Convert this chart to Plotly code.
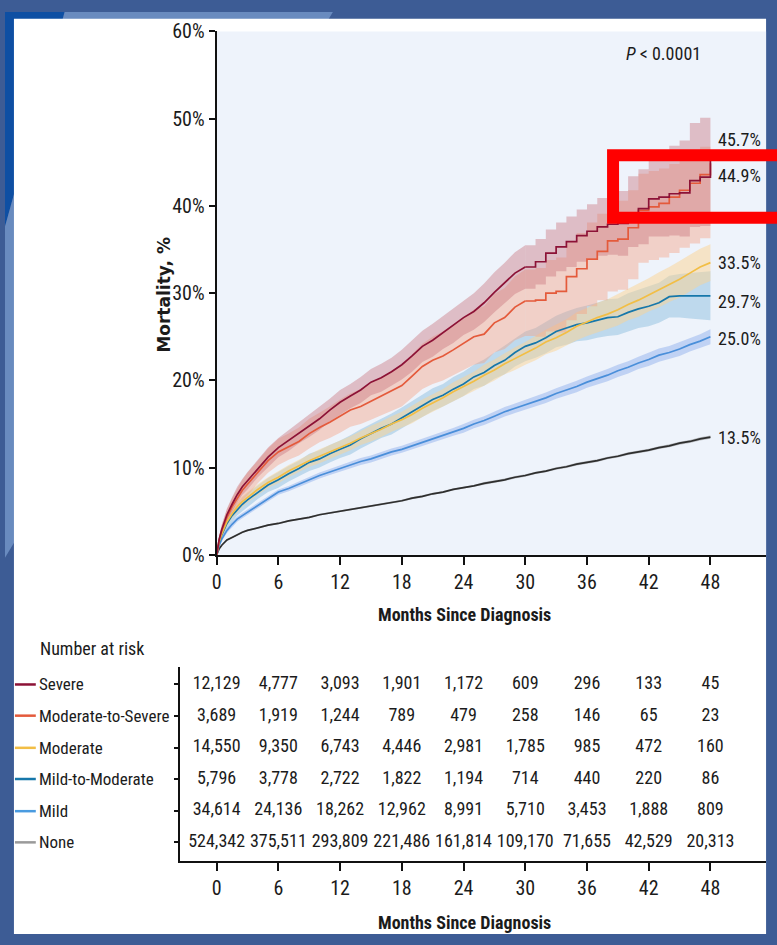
import plotly.graph_objects as go

# ---------------- data ----------------
months = [0, 0.25, 0.5, 1, 1.5, 2, 2.5, 3] + list(range(4, 49))

severe = [0, 1.8, 2.9, 4.6, 5.8, 6.9, 7.8, 8.5,
          9.9, 11.2, 12.3, 13.1, 14.0, 14.8, 15.6, 16.6, 17.5, 18.2, 18.9, 19.8, 20.3, 21.0, 21.8,
          22.8, 23.9, 24.6, 25.5, 26.3, 27.2, 27.9, 28.9, 30.1, 31.2, 32.3, 33.0, 33.6, 34.6, 35.3,
          35.9, 36.6, 37.1, 37.6, 37.9, 38.0, 39.2, 39.7, 40.8, 41.0, 41.4, 41.5, 42.9, 43.3, 45.7]
severe_lo = [0, 0.4, 0.5, 0.7, 0.8, 0.9, 0.9, 1.0,
             1.0, 1.1, 1.1, 1.2, 1.2, 1.3, 1.3, 1.3, 1.4, 1.4, 1.5, 1.5, 1.6, 1.6, 1.7, 1.8, 1.8,
             1.9, 1.9, 2.0, 2.0, 2.1, 2.2, 2.3, 2.3, 2.4, 2.5, 2.6, 2.7, 2.8, 2.9, 3.0, 3.1, 3.3,
             3.5, 3.7, 3.9, 4.1, 4.3, 4.5, 4.8, 5.0, 5.3, 5.6, 6.2]
severe_hi = [0, 0.4, 0.5, 0.7, 0.8, 0.9, 0.9, 1.0,
             1.0, 1.1, 1.1, 1.2, 1.2, 1.3, 1.3, 1.3, 1.4, 1.4, 1.5, 1.5, 1.6, 1.6, 1.7, 1.8, 1.8,
             1.9, 1.9, 2.0, 2.0, 2.1, 2.2, 2.3, 2.3, 2.4, 2.5, 2.6, 2.7, 2.8, 2.9, 3.0, 3.1, 3.3,
             3.5, 3.7, 4.2, 4.5, 4.8, 5.0, 5.5, 6.0, 6.6, 6.8, 7.1]

mod_sev = [0, 1.7, 2.8, 4.3, 5.5, 6.5, 7.4, 8.1,
           9.5, 10.8, 11.8, 12.4, 13.0, 13.9, 14.6, 15.2, 15.9, 16.6, 17.0, 17.6, 18.2, 18.8, 19.4,
           20.5, 21.6, 22.3, 22.8, 23.5, 24.2, 25.0, 25.3, 26.6, 27.2, 28.4, 29.1, 29.2, 30.0, 30.2,
           31.9, 32.8, 33.9, 34.8, 36.0, 36.2, 37.5, 39.5, 39.9, 40.3, 41.0, 41.8, 42.6, 43.6, 44.9]
mod_sev_lo = [0, 0.5, 0.7, 0.9, 1.0, 1.1, 1.2, 1.3,
              1.3, 1.4, 1.5, 1.5, 1.6, 1.7, 1.7, 1.8, 1.9, 1.9, 2.0, 2.1, 2.2, 2.3, 2.4,
              2.5, 2.6, 2.7, 2.8, 2.9, 3.0, 3.2, 3.3, 3.4, 3.6, 3.8, 4.0, 4.2, 4.4, 4.7,
              5.0, 5.2, 5.4, 5.6, 5.8, 5.8, 5.9, 6.0, 6.1, 6.2, 6.4, 6.6, 6.9, 7.3, 8.4]
mod_sev_hi = [0, 0.5, 0.7, 0.9, 1.0, 1.1, 1.2, 1.3,
              1.3, 1.4, 1.5, 1.5, 1.6, 1.7, 1.7, 1.8, 1.9, 1.9, 2.0, 2.1, 2.2, 2.3, 2.4,
              2.5, 2.6, 2.7, 2.8, 2.9, 3.0, 3.1, 3.2, 3.3, 3.4, 3.5, 3.6, 3.7, 3.8, 3.9,
              4.0, 4.1, 4.2, 4.3, 4.4, 4.4, 4.3, 4.2, 4.1, 4.0, 3.8, 3.6, 3.4, 3.2, 2.8]

moderate = [0, 1.5, 2.4, 3.8, 4.7, 5.5, 6.1, 6.6,
            7.5, 8.3, 8.9, 9.6, 10.2, 10.8, 11.3, 11.8, 12.3, 12.8, 13.4, 13.9, 14.4, 15.0, 15.5,
            16.1, 16.8, 17.4, 18.0, 18.7, 19.3, 19.9, 20.6, 21.2, 21.9, 22.5, 23.1, 23.7, 24.4, 24.9,
            25.5, 26.2, 26.7, 27.2, 27.6, 28.1, 28.7, 29.2, 29.8, 30.4, 31.0, 31.6, 32.3, 33.0, 33.5]
moderate_ci = [0, 0.3, 0.4, 0.5, 0.5, 0.6, 0.6, 0.6,
               0.6, 0.6, 0.7, 0.7, 0.7, 0.7, 0.8, 0.8, 0.8, 0.8, 0.8, 0.9, 0.9, 0.9, 0.9,
               1.0, 1.0, 1.0, 1.0, 1.1, 1.1, 1.1, 1.2, 1.2, 1.2, 1.3, 1.3, 1.4, 1.4, 1.5,
               1.5, 1.6, 1.6, 1.7, 1.7, 1.8, 1.8, 1.9, 1.9, 2.0, 2.0, 2.1, 2.1, 2.1, 2.1]

mild_mod = [0, 1.4, 2.3, 3.6, 4.5, 5.2, 5.8, 6.3,
            7.2, 8.0, 8.6, 9.3, 9.9, 10.6, 11.0, 11.6, 12.1, 12.6, 13.3, 13.9, 14.5, 15.0, 15.7,
            16.4, 17.1, 17.8, 18.3, 19.0, 19.6, 20.4, 20.9, 21.7, 22.3, 23.2, 23.9, 24.3, 24.9, 25.6,
            26.0, 26.4, 26.6, 26.9, 27.2, 27.3, 27.8, 28.2, 28.5, 28.9, 29.6, 29.7, 29.7, 29.7, 29.7]
mild_mod_ci = [0, 0.4, 0.5, 0.6, 0.7, 0.7, 0.8, 0.8,
               0.8, 0.8, 0.9, 0.9, 0.9, 1.0, 1.0, 1.0, 1.0, 1.1, 1.1, 1.1, 1.1, 1.2, 1.2,
               1.2, 1.3, 1.3, 1.3, 1.4, 1.4, 1.4, 1.5, 1.5, 1.6, 1.6, 1.7, 1.7, 1.8, 1.8,
               1.9, 1.9, 2.0, 2.0, 2.1, 2.1, 2.2, 2.2, 2.3, 2.3, 2.4, 2.5, 2.6, 2.7, 2.8]

mild = [0, 1.1, 1.8, 2.8, 3.5, 4.1, 4.5, 4.9,
        5.7, 6.5, 7.2, 7.6, 8.1, 8.6, 9.1, 9.5, 9.9, 10.3, 10.7, 11.0, 11.4, 11.8, 12.1,
        12.5, 12.9, 13.3, 13.7, 14.1, 14.5, 15.0, 15.4, 15.9, 16.4, 16.8, 17.2, 17.6, 18.0, 18.5,
        18.9, 19.3, 19.8, 20.2, 20.6, 21.1, 21.5, 22.0, 22.4, 22.9, 23.2, 23.6, 24.1, 24.5, 25.0]
mild_ci = [0, 0.2, 0.2, 0.3, 0.3, 0.3, 0.3, 0.3,
           0.3, 0.3, 0.3, 0.3, 0.3, 0.3, 0.35, 0.35, 0.35, 0.35, 0.4, 0.4, 0.4, 0.4, 0.4,
           0.4, 0.45, 0.45, 0.45, 0.45, 0.5, 0.5, 0.5, 0.5, 0.55, 0.55, 0.55, 0.6, 0.6, 0.6,
           0.6, 0.65, 0.65, 0.65, 0.7, 0.7, 0.7, 0.7, 0.75, 0.75, 0.75, 0.8, 0.8, 0.8, 0.85]

none = [0, 0.7, 1.1, 1.7, 2.0, 2.3, 2.6, 2.8,
        3.1, 3.4, 3.6, 3.9, 4.1, 4.3, 4.6, 4.8, 5.0, 5.2, 5.4, 5.6, 5.8, 6.0, 6.2,
        6.5, 6.7, 7.0, 7.2, 7.5, 7.7, 7.9, 8.2, 8.4, 8.6, 8.9, 9.1, 9.4, 9.6, 9.9,
        10.1, 10.4, 10.6, 10.8, 11.1, 11.3, 11.6, 11.8, 12.0, 12.3, 12.5, 12.8, 13.0, 13.3, 13.5]
none_ci = [0, 0.05, 0.05, 0.1, 0.1, 0.1, 0.1, 0.1,
           0.1, 0.1, 0.1, 0.1, 0.1, 0.1, 0.1, 0.1, 0.1, 0.1, 0.1, 0.1, 0.1, 0.1, 0.12,
           0.12, 0.12, 0.12, 0.12, 0.12, 0.12, 0.12, 0.14, 0.14, 0.14, 0.14, 0.14, 0.14, 0.14, 0.14,
           0.15, 0.15, 0.15, 0.15, 0.15, 0.15, 0.16, 0.16, 0.16, 0.16, 0.17, 0.17, 0.17, 0.18, 0.18]

end_labels = ["45.7%", "44.9%", "33.5%", "29.7%", "25.0%", "13.5%"]
end_label_values = [47.6, 43.5, 33.5, 29.1, 24.8, 13.4]

risk_categories = ["Severe", "Moderate-to-Severe", "Moderate", "Mild-to-Moderate", "Mild", "None"]
risk_months = [0, 6, 12, 18, 24, 30, 36, 42, 48]
risk_severe = [12129, 4777, 3093, 1901, 1172, 609, 296, 133, 45]
risk_mod_sev = [3689, 1919, 1244, 789, 479, 258, 146, 65, 23]
risk_moderate = [14550, 9350, 6743, 4446, 2981, 1785, 985, 472, 160]
risk_mild_mod = [5796, 3778, 2722, 1822, 1194, 714, 440, 220, 86]
risk_mild = [34614, 24136, 18262, 12962, 8991, 5710, 3453, 1888, 809]
risk_none = [524342, 375511, 293809, 221486, 161814, 109170, 71655, 42529, 20313]

y_ticks = [0, 10, 20, 30, 40, 50, 60]
x_ticks = [0, 6, 12, 18, 24, 30, 36, 42, 48]

# ---------------- styling ----------------
W, H = 777, 945
def px(x):
    return x / W
def py(y):
    return 1 - y / H

FONT = "Liberation Sans Narrow, Roboto Condensed, DejaVu Sans Condensed, Roboto, sans-serif"
TXT = "#1b1b1b"

line_colors = ["#8C1236", "#E45A3B", "#F2BE45", "#1677AA", "#4A8FDA", "#2E2E2E"]
band_colors = ["rgba(200,115,125,0.42)", "rgba(246,160,128,0.42)", "rgba(251,212,145,0.5)",
               "rgba(125,180,218,0.42)", "rgba(145,178,238,0.5)", "rgba(110,110,110,0.4)"]
swatch_colors = ["#8C1236", "#E45A3B", "#F2BE45", "#1677AA", "#4A9BE0", "#9A9A9A"]
# series that show visible steps late in follow-up
step_from = [30, 30, None, None, None, None]

series = [
    (severe, severe_lo, severe_hi),
    (mod_sev, mod_sev_lo, mod_sev_hi),
    (moderate, moderate_ci, moderate_ci),
    (mild_mod, mild_mod_ci, mild_mod_ci),
    (mild, mild_ci, mild_ci),
    (none, none_ci, none_ci),
]

def segments(idx, ys):
    """Split into a smooth early part and a stepped late part."""
    s = step_from[idx]
    if s is None:
        return [(months, ys, "linear")]
    k = months.index(s)
    return [(months[:k + 1], ys[:k + 1], "linear"), (months[k:], ys[k:], "hv")]

fig = go.Figure()

# confidence bands
for idx in [5, 4, 3, 2, 1, 0]:
    vals, lo, hi = series[idx]
    lower = [v - d for v, d in zip(vals, lo)]
    upper = [v + d for v, d in zip(vals, hi)]
    for (xs, ylo, shp), (_, yhi, _) in zip(segments(idx, lower), segments(idx, upper)):
        fig.add_trace(go.Scatter(x=xs, y=ylo, mode="lines", line=dict(width=0, shape=shp),
                                 hoverinfo="skip", showlegend=False, xaxis="x", yaxis="y"))
        fig.add_trace(go.Scatter(x=xs, y=yhi, mode="lines", line=dict(width=0, shape=shp),
                                 fill="tonexty", fillcolor=band_colors[idx],
                                 hoverinfo="skip", showlegend=False, xaxis="x", yaxis="y"))

# curves
for idx in [5, 4, 3, 2, 1, 0]:
    vals = series[idx][0]
    for xs, ys, shp in segments(idx, vals):
        fig.add_trace(go.Scatter(x=xs, y=ys, mode="lines",
                                 line=dict(color=line_colors[idx], width=1.7, shape=shp),
                                 name=risk_categories[idx], showlegend=False,
                                 xaxis="x", yaxis="y"))

# number at risk table
risk_rows = [risk_severe, risk_mod_sev, risk_moderate, risk_mild_mod, risk_mild, risk_none]
for r, row in enumerate(risk_rows):
    fig.add_trace(go.Scatter(x=risk_months, y=[r] * len(row), mode="text",
                             text=[f"{v:,}" for v in row], textposition="middle center",
                             textfont=dict(family=FONT, size=18, color=TXT),
                             hoverinfo="skip", showlegend=False, xaxis="x2", yaxis="y2"))

PXM = (710 - 213) / 48.0  # pixels per month
x_max = (766 - 213) / PXM
x2_min = (176 - 213) / PXM
ROW_PX = (852 - 690) / 5.0
y2_top = -(690 - 672) / ROW_PX
y2_bot = (871 - 690) / ROW_PX

axis_font = dict(family=FONT, size=20, color=TXT)

fig.update_layout(
    width=W, height=H, autosize=False,
    margin=dict(l=0, r=0, t=0, b=0, pad=0),
    paper_bgcolor="#3D5C95",
    plot_bgcolor="rgba(0,0,0,0)",
    showlegend=False,
    xaxis=dict(domain=[px(213), px(766)], range=[0, x_max], tickvals=x_ticks,
               ticktext=[str(t) for t in x_ticks], ticks="outside", ticklen=8, tickwidth=2,
               tickcolor="#111", showline=True, linecolor="#111", linewidth=2,
               showgrid=False, zeroline=False, tickfont=axis_font, anchor="y"),
    yaxis=dict(domain=[py(557), py(20)], range=[0, 60], tickvals=y_ticks,
               ticktext=[f"{t}%" for t in y_ticks], ticks="outside", ticklen=6, tickwidth=2,
               tickcolor="#111", showline=True, linecolor="#111", linewidth=2,
               showgrid=False, zeroline=False, tickfont=axis_font, anchor="x"),
    xaxis2=dict(domain=[px(176), px(766)], range=[x2_min, x_max], tickvals=x_ticks,
                ticktext=[str(t) for t in x_ticks], ticks="outside", ticklen=8, tickwidth=2,
                tickcolor="#111", showline=True, linecolor="#111", linewidth=2,
                showgrid=False, zeroline=False, tickfont=axis_font, anchor="y2"),
    yaxis2=dict(domain=[py(871), py(672)], range=[y2_bot, y2_top], tickvals=list(range(6)),
                showticklabels=False, ticks="outside", ticklen=4, tickwidth=2, tickcolor="#111",
                showline=True, linecolor="#111", linewidth=2, showgrid=False, zeroline=False,
                anchor="x2"),
)

shapes = []
# slide decoration
shapes.append(dict(type="path", xref="paper", yref="paper", layer="below",
                   path=f"M 0 1 L {px(60)} 1 L 0 {py(220)} Z",
                   fillcolor="#0E4FA3", line=dict(width=0)))
shapes.append(dict(type="path", xref="paper", yref="paper", layer="below",
                   path=f"M {px(60)} 1 L {px(330)} 1 L 0 {py(560)} L 0 {py(220)} Z",
                   fillcolor="rgba(120,155,205,0.75)", line=dict(width=0)))
# white panel
shapes.append(dict(type="rect", xref="paper", yref="paper", layer="below",
                   x0=px(9), x1=px(766), y0=py(946), y1=py(7),
                   fillcolor="white", line=dict(width=0)))
# plot background
shapes.append(dict(type="rect", xref="paper", yref="paper", layer="below",
                   x0=px(213), x1=px(766), y0=py(557), y1=py(20),
                   fillcolor="#EEF3FB", line=dict(width=0)))
# legend swatches
row_px = [690, 722, 755, 787, 820, 852]
for c, ypix in zip(swatch_colors, row_px):
    shapes.append(dict(type="line", xref="paper", yref="paper", layer="above",
                       x0=px(10), x1=px(31), y0=py(ypix), y1=py(ypix),
                       line=dict(color=c, width=2.5)))
# highlight rectangle
shapes.append(dict(type="rect", xref="paper", yref="paper", layer="above",
                   x0=px(612), x1=px(800), y0=py(211), y1=py(147),
                   line=dict(color="#FF0000", width=12), fillcolor="rgba(0,0,0,0)"))
fig.update_layout(shapes=shapes)

def note(text, x, y, size=18, family=FONT, xanchor="center", yref="paper", angle=0):
    return dict(text=text, xref="paper", yref=yref, x=x, y=y, xanchor=xanchor,
                yanchor="middle", textangle=angle, showarrow=False,
                font=dict(family=family, size=size, color=TXT))

ann = []
ann.append(note("<b>Mortality, %</b>", px(160), py(290), size=17,
                family="DejaVu Sans, Verdana, sans-serif", angle=-90))
ann.append(note("<b>Months Since Diagnosis</b>", px(462), py(618), size=18))
ann.append(note("<b>Months Since Diagnosis</b>", px(462), py(934), size=18))
ann.append(note("<i>P</i> < 0.0001", px(663), py(43), size=18))
for lab, v in zip(end_labels, end_label_values):
    ann.append(note(lab, px(716), v, size=18, xanchor="left", yref="y"))
ann.append(note("Number at risk", px(33), py(653), size=18, xanchor="left"))
for lab, ypix in zip(risk_categories, row_px):
    ann.append(note(lab, px(32), py(ypix), size=17, xanchor="left"))
fig.update_layout(annotations=ann)

fig.write_html("out.html")
